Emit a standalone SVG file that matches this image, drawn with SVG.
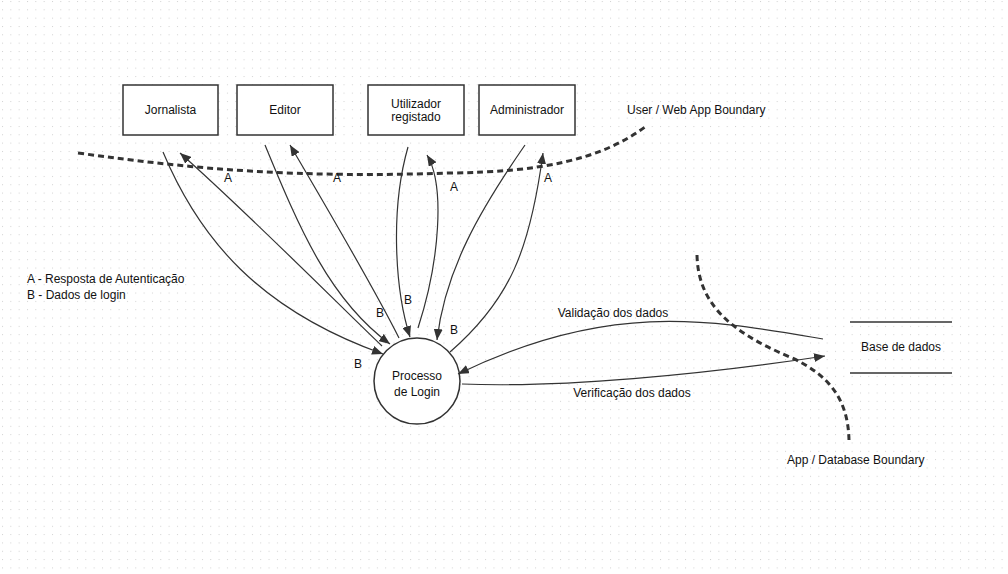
<svg xmlns="http://www.w3.org/2000/svg" width="1008" height="574" viewBox="0 0 1008 574">
  <defs>
    <pattern id="grid" x="2" y="1" width="8.33" height="8.33" patternUnits="userSpaceOnUse">
      <rect x="0" y="0" width="1" height="1" fill="#d0d0d0"/>
    </pattern>
    <marker id="arrow" viewBox="0 0 11 9" refX="11" refY="4.5" markerWidth="11" markerHeight="9" markerUnits="userSpaceOnUse" orient="auto">
      <path d="M0,0 L11,4.5 L0,9 z" fill="#333"/>
    </marker>
  </defs>
  <style>
    text { font-family: "Liberation Sans", Arial, sans-serif; font-size: 12px; fill: #111; }
    .mid { text-anchor: middle; }
    .box { fill: #fff; stroke: #333; stroke-width: 1.5; }
    .flow { fill: none; stroke: #333; stroke-width: 1.2; }
    .arr { marker-end: url(#arrow); }
    .boundary { fill: none; stroke: #333; stroke-width: 3; stroke-dasharray: 6 4; }
    .store { stroke: #333; stroke-width: 1.3; }
  </style>

  <rect width="1008" height="574" fill="#fff"/>
  <rect width="1008" height="574" fill="url(#grid)"/>

  <!-- trust boundaries -->
  <g id="boundaries">
    <path class="boundary" d="M78,153 C200,170 300,178 450,173 C540,172 600,160 645,127"/>
    <text x="627" y="114">User / Web App Boundary</text>
    <path class="boundary" d="M697,255 C698,300 725,330 790,357 C830,375 848,400 849,440"/>
    <text x="787" y="464">App / Database Boundary</text>
  </g>

  <!-- external entities -->
  <g id="jornalista">
    <rect class="box" x="123" y="85" width="95" height="50"/>
    <text class="mid" x="170.5" y="114">Jornalista</text>
  </g>
  <g id="editor">
    <rect class="box" x="237" y="85" width="96" height="50"/>
    <text class="mid" x="285" y="114">Editor</text>
  </g>
  <g id="utilizador">
    <rect class="box" x="368" y="85" width="96" height="50"/>
    <text class="mid" x="416" y="108">Utilizador</text>
    <text class="mid" x="416" y="121">registado</text>
  </g>
  <g id="administrador">
    <rect class="box" x="479" y="85" width="96" height="50"/>
    <text class="mid" x="527" y="114">Administrador</text>
  </g>

  <!-- process -->
  <g id="processo">
    <circle cx="417" cy="381" r="43" fill="#fff" stroke="#333" stroke-width="1.5"/>
    <text class="mid" x="417" y="380">Processo</text>
    <text class="mid" x="417" y="396">de Login</text>
  </g>

  <!-- data store -->
  <g id="base-de-dados">
    <line class="store" x1="850" y1="322" x2="952" y2="322"/>
    <line class="store" x1="850" y1="373" x2="952" y2="373"/>
    <text class="mid" x="901" y="351">Base de dados</text>
  </g>

  <!-- data flows -->
  <g id="connectors">
    <!-- Jornalista -->
    <path class="flow arr" d="M163,152 C200,240 260,310 383,354"/>
    <path class="flow arr" d="M382,346 C340,306 250,215 180,153"/>
    <!-- Editor -->
    <path class="flow arr" d="M265,145 C300,230 330,300 390,344"/>
    <path class="flow arr" d="M399,338 C380,300 340,230 290,145"/>
    <!-- Utilizador registado -->
    <path class="flow arr" d="M408,147 C390,210 395,290 410,337"/>
    <path class="flow arr" d="M418,328 C440,260 445,185 427,155"/>
    <!-- Administrador -->
    <path class="flow arr" d="M525,145 C480,210 445,270 437,340"/>
    <path class="flow arr" d="M450,352 C510,300 530,250 543,153"/>
    <!-- Base de dados -->
    <path class="flow arr" d="M823,339 C710,320 610,300 458,374"/>
    <path class="flow arr" d="M462,384 C560,388 700,375 825,356"/>

    <text class="mid" x="228" y="182">A</text>
    <text class="mid" x="337" y="182">A</text>
    <text class="mid" x="454" y="191">A</text>
    <text class="mid" x="548" y="182">A</text>
    <text class="mid" x="358" y="368">B</text>
    <text class="mid" x="380" y="317">B</text>
    <text class="mid" x="408" y="304">B</text>
    <text class="mid" x="454" y="334">B</text>
    <text class="mid" x="613" y="317">Validação dos dados</text>
    <text class="mid" x="632" y="397">Verificação dos dados</text>
  </g>

  <!-- legend -->
  <g id="legend">
    <text x="27" y="283">A - Resposta de Autenticação</text>
    <text x="27" y="299">B - Dados de login</text>
  </g>
</svg>
